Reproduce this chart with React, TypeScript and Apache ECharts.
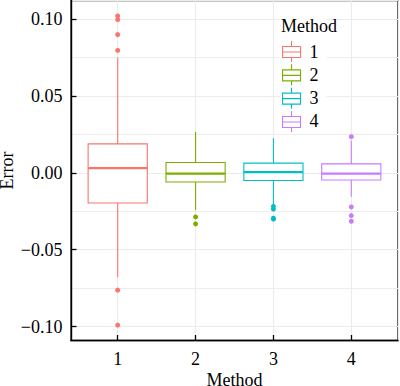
import { useEffect, useRef } from 'react';
import * as echarts from 'echarts';

const FONT = 'Liberation Serif, Times New Roman, serif';

const methods = ['1', '2', '3', '4'];
const methodColors = ['#F8766D', '#7CAE00', '#00BFC4', '#C77CFF'];
// [lower whisker, Q1, median, Q3, upper whisker]
const stats1 = [-0.068, -0.0196, 0.003, 0.0188, 0.075];
const stats2 = [-0.0244, -0.006, -0.0005, 0.0067, 0.0265];
const stats3 = [-0.0205, -0.005, 0.0005, 0.0063, 0.0224];
const stats4 = [-0.0155, -0.0047, -0.0005, 0.0058, 0.021];
const boxStats = [stats1, stats2, stats3, stats4];

const outliers1 = [0.102, 0.0996, 0.0899, 0.0796, -0.0763, -0.099];
const outliers2 = [-0.0287, -0.0332];
const outliers3 = [-0.0218, -0.0236, -0.0295, -0.0301];
const outliers4 = [0.0235, -0.0222, -0.0278, -0.0315];
const outlierLists = [outliers1, outliers2, outliers3, outliers4];

const yMin = -0.10905;
const yMax = 0.11205;
const xMin = 0.4;
const xMax = 4.6;
const BOX_WIDTH = 0.76;

const xTitle = 'Method';
const yTitle = 'Error';
const legendTitle = 'Method';

const LEGEND_ICON =
  'path://M9,0L9,5.5M0,5.5L18,5.5L18,16.5L0,16.5ZM0,11L18,11M9,16.5L9,21';

const SERIF_TEXT = { fontFamily: FONT, fontSize: 18, color: '#000' };
const NAME_TEXT = { fontFamily: FONT, fontSize: 18, color: '#000', lineHeight: 12 };

function fmtY(v: number): string {
  let s: string;
  if (Math.abs(v) < 1e-9) s = '0.00';
  else s = (v < 0 ? '\u2212' : '') + Math.abs(v).toFixed(2);
  return '{s|' + s + '}';
}

function fmtX(v: number): string {
  return '{s|' + String(Math.round(v)) + '}';
}

function makeRenderBox(color: string) {
  return (_params: any, api: any) => {
    const x = api.value(0);
    const lo = api.coord([x, api.value(1)]);
    const q1 = api.coord([x, api.value(2)]);
    const med = api.coord([x, api.value(3)]);
    const q3 = api.coord([x, api.value(4)]);
    const hi = api.coord([x, api.value(5)]);
    const half = api.size([BOX_WIDTH, 0])[0] / 2;
    const cx = q1[0];
    return {
      type: 'group',
      children: [
        { type: 'line', shape: { x1: cx, y1: hi[1], x2: cx, y2: q3[1] }, style: { stroke: color, lineWidth: 1.1 } },
        { type: 'line', shape: { x1: cx, y1: q1[1], x2: cx, y2: lo[1] }, style: { stroke: color, lineWidth: 1.1 } },
        {
          type: 'rect',
          shape: { x: cx - half, y: q3[1], width: 2 * half, height: q1[1] - q3[1] },
          style: { fill: '#fff', stroke: color, lineWidth: 1.1 },
        },
        {
          type: 'line',
          shape: { x1: cx - half, y1: med[1], x2: cx + half, y2: med[1] },
          style: { stroke: color, lineWidth: 2.2 },
        },
      ],
    };
  };
}

export default function App() {
  const ref = useRef<HTMLDivElement>(null);

  useEffect(() => {
    if (!ref.current) return;
    const chart = echarts.init(ref.current, undefined, { renderer: 'svg' });

    const boxSeries = methods.map((m, i) => ({
      name: m,
      type: 'custom',
      xAxisIndex: 0,
      yAxisIndex: 0,
      renderItem: makeRenderBox(methodColors[i]),
      itemStyle: { color: methodColors[i] },
      data: [[i + 1, ...boxStats[i]]],
      z: 2,
    }));

    const outlierSeries = methods.map((m, i) => ({
      name: 'outliers ' + m,
      type: 'scatter',
      symbol: 'circle',
      symbolSize: 5,
      itemStyle: { color: methodColors[i], opacity: 1 },
      data: outlierLists[i].map((v) => [i + 1, v]),
      z: 3,
    }));

    chart.setOption({
      animation: false,
      backgroundColor: '#fff',
      textStyle: { fontFamily: FONT },
      grid: {
        left: 71,
        right: 2,
        top: 0.5,
        bottom: 45.5,
        containLabel: false,
        outerBoundsMode: 'none',
        show: true,
        borderColor: '#222',
        borderWidth: 1.4,
        backgroundColor: 'transparent',
      },
      xAxis: {
        type: 'value',
        min: xMin,
        max: xMax,
        name: xTitle,
        nameLocation: 'middle',
        nameGap: 33,
        nameMoveOverlap: false,
        nameTextStyle: NAME_TEXT,
        axisLine: { show: true, onZero: false, lineStyle: { color: '#000', width: 1.4 } },
        axisTick: { show: true, inside: true, length: 5.5, lineStyle: { color: '#000', width: 1.3 } },
        axisLabel: {
          show: true,
          showMinLabel: false,
          showMaxLabel: false,
          margin: 9.5,
          fontFamily: FONT,
          fontSize: 18,
          color: '#000',
          formatter: fmtX,
          rich: { s: SERIF_TEXT },
        },
        splitLine: { show: true, lineStyle: { color: '#EBEBEB', width: 1.1 } },
        minorSplitLine: { show: false },
      },
      yAxis: {
        type: 'value',
        min: yMin,
        max: yMax,
        name: yTitle,
        nameLocation: 'middle',
        nameGap: 58.5,
        nameRotate: 90,
        nameMoveOverlap: false,
        nameTextStyle: NAME_TEXT,
        axisLine: { show: true, onZero: false, lineStyle: { color: '#000', width: 1.4 } },
        axisTick: { show: true, inside: true, length: 5.5, lineStyle: { color: '#000', width: 1.3 } },
        minorTick: { show: false, splitNumber: 2 },
        axisLabel: {
          show: true,
          showMinLabel: false,
          showMaxLabel: false,
          margin: 8.5,
          fontFamily: FONT,
          fontSize: 18,
          color: '#000',
          formatter: fmtY,
          rich: { s: SERIF_TEXT },
        },
        splitLine: { show: true, lineStyle: { color: '#EBEBEB', width: 1.1 } },
        minorSplitLine: { show: true, lineStyle: { color: '#EDEDED', width: 1 } },
      },
      legend: {
        orient: 'vertical',
        left: 280,
        top: 12,
        padding: [28.5, 8, 1, 2],
        itemGap: 1.2,
        itemWidth: 26,
        itemHeight: 21,
        symbolKeepAspect: true,
        backgroundColor: '#fff',
        selectedMode: false,
        formatter: '{s|{name}}',
        textStyle: { fontFamily: FONT, fontSize: 18, color: '#000', rich: { s: SERIF_TEXT } },
        data: methods.map((m, i) => ({
          name: m,
          icon: LEGEND_ICON,
          itemStyle: { color: '#fff', borderColor: methodColors[i], borderWidth: 1.1 },
        })),
      },
      graphic: [
        {
          type: 'text',
          x: 309,
          y: 25.5,
          z: 100,
          style: {
            text: legendTitle,
            fontFamily: FONT,
            fontSize: 18,
            fill: '#000',
            align: 'center',
            verticalAlign: 'middle',
          },
        },
      ],
      series: [...boxSeries, ...outlierSeries],
    });

    return () => chart.dispose();
  }, []);

  return (
    <div
      ref={ref}
      style={{ position: 'fixed', left: 0, top: 0, width: 400, height: 386 }}
    />
  );
}
